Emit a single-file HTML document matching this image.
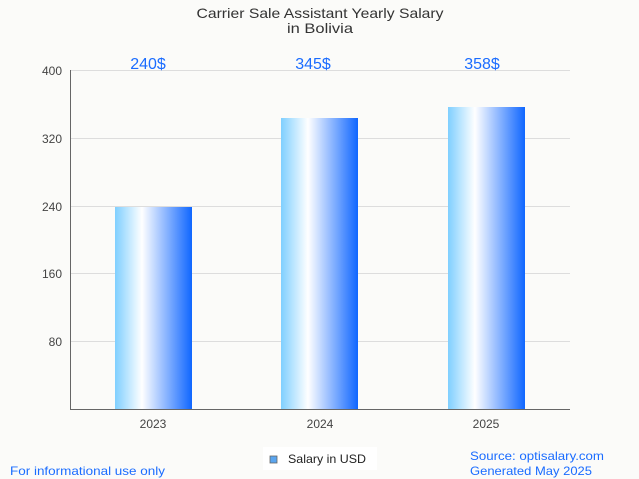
<!DOCTYPE html>
<html><head><style>
body{margin:0;background:#fbfbf9;}
svg{display:block;font-family:"Liberation Sans",sans-serif;}
</style></head><body>
<svg width="639" height="479" viewBox="0 0 639 479" xmlns="http://www.w3.org/2000/svg">
<defs>
<linearGradient id="g" x1="0" x2="1" y1="0" y2="0">
<stop offset="0" stop-color="#7fcfff"/>
<stop offset="0.35" stop-color="#ffffff"/>
<stop offset="1" stop-color="#0f66ff"/>
</linearGradient>
</defs>
<rect width="639" height="479" fill="#fbfbf9"/>
<text x="320" y="18" text-anchor="middle" font-size="14" fill="#333" textLength="247" lengthAdjust="spacingAndGlyphs">Carrier Sale Assistant Yearly Salary</text>
<text x="320" y="33" text-anchor="middle" font-size="14" fill="#333" textLength="66" lengthAdjust="spacingAndGlyphs">in Bolivia</text>
<g stroke="#dddddd" stroke-width="1">
<line x1="70" y1="70.5" x2="570" y2="70.5"/>
<line x1="70" y1="138.5" x2="570" y2="138.5"/>
<line x1="70" y1="206.5" x2="570" y2="206.5"/>
<line x1="70" y1="273.5" x2="570" y2="273.5"/>
<line x1="70" y1="341.5" x2="570" y2="341.5"/>
</g>
<g font-size="12" fill="#444" text-anchor="end">
<text x="62" y="75">400</text>
<text x="62" y="143">320</text>
<text x="62" y="211">240</text>
<text x="62" y="278">160</text>
<text x="62" y="346">80</text>
</g>
<rect x="115" y="207" width="77" height="202" fill="url(#g)"/>
<rect x="281" y="118" width="77" height="291" fill="url(#g)"/>
<rect x="448" y="107" width="77" height="302" fill="url(#g)"/>
<line x1="70.5" y1="70" x2="70.5" y2="409" stroke="#666"/>
<line x1="70" y1="409.5" x2="570" y2="409.5" stroke="#666"/>
<g font-size="12" fill="#444" text-anchor="middle">
<text x="153" y="428">2023</text>
<text x="320" y="428">2024</text>
<text x="486" y="428">2025</text>
</g>
<g font-size="16" fill="#1a6cff" text-anchor="middle">
<text x="148" y="69">240$</text>
<text x="313" y="69">345$</text>
<text x="482" y="69">358$</text>
</g>
<rect x="263" y="447" width="114" height="23" fill="#fff"/>
<rect x="270" y="456" width="7" height="7" fill="#5aa5ef" stroke="#666" stroke-width="0.8"/>
<text x="288" y="463" font-size="12" fill="#222" textLength="78" lengthAdjust="spacingAndGlyphs">Salary in USD</text>
<text x="10" y="475" font-size="12" fill="#1a6cff" textLength="155" lengthAdjust="spacingAndGlyphs">For informational use only</text>
<text x="470" y="460" font-size="12" fill="#1a6cff" textLength="134" lengthAdjust="spacingAndGlyphs">Source: optisalary.com</text>
<text x="470" y="475" font-size="12" fill="#1a6cff" textLength="122" lengthAdjust="spacingAndGlyphs">Generated May 2025</text>
</svg>
</body></html>
